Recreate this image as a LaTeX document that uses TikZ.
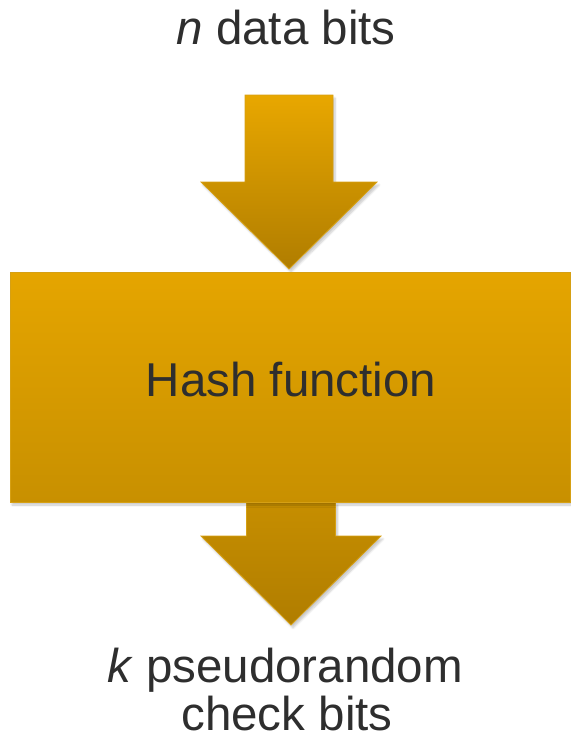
\documentclass[tikz,border=0pt]{standalone}
\usepackage{fontspec}
\setmainfont{Liberation Sans}
\usetikzlibrary{shadows.blur}
\definecolor{txt}{HTML}{2E2E2E}
\definecolor{goldA}{RGB}{232,167,0}
\definecolor{goldB}{RGB}{176,125,0}
\definecolor{goldC}{RGB}{229,165,0}
\definecolor{goldD}{RGB}{200,144,0}
\definecolor{goldE}{RGB}{198,142,0}
\definecolor{edge}{RGB}{214,160,20}
\begin{document}
\begin{tikzpicture}[x=1pt,y=-1pt,
  lbl/.style={text=txt,font=\fontsize{47.5}{52}\selectfont,inner sep=0pt},
  shadowed/.style={blur shadow={shadow xshift=2pt,shadow yshift=-3pt,shadow opacity=22,shadow blur steps=6}},
  blockbox/.style={shadowed,draw=edge,line width=0.8pt,top color=goldC,bottom color=goldD,
    minimum width=560pt,minimum height=230pt,inner sep=0pt}]
\useasboundingbox (0,0) rectangle (571,740);
% labels
\node[lbl,anchor=base] (in) at (286,44) {\textit{n} data bits};
\node[lbl,anchor=base] (out1) at (285,682) {\textit{k} pseudorandom};
\node[lbl,anchor=base] (out2) at (287,730) {check bits};
% top arrow
\coordinate (ta) at (289,95);
\shade[shadowed,draw=edge,line width=0.8pt,top color=goldA,bottom color=goldB]
  ([xshift=-44pt]ta) -- ([xshift=44pt]ta) -- ([xshift=44pt,yshift=-87pt]ta)
  -- ([xshift=88pt,yshift=-87pt]ta) -- ([yshift=-174pt]ta) -- ([xshift=-88pt,yshift=-87pt]ta)
  -- ([xshift=-44pt,yshift=-87pt]ta) -- cycle;
% bottom arrow
\coordinate (ba) at (291,502);
\shade[shadowed,draw=edge,line width=0.8pt,top color=goldE,bottom color=goldB]
  ([xshift=-44.5pt]ba) -- ([xshift=44.5pt]ba) -- ([xshift=44.5pt,yshift=-34pt]ba)
  -- ([xshift=90pt,yshift=-34pt]ba) -- ([yshift=-123pt]ba) -- ([xshift=-90pt,yshift=-34pt]ba)
  -- ([xshift=-44.5pt,yshift=-34pt]ba) -- cycle;
% box
\node[blockbox] (hash) at (290,387) {};
\node[lbl] (hashtxt) at (291,380) {Hash function};
\end{tikzpicture}
\end{document}
